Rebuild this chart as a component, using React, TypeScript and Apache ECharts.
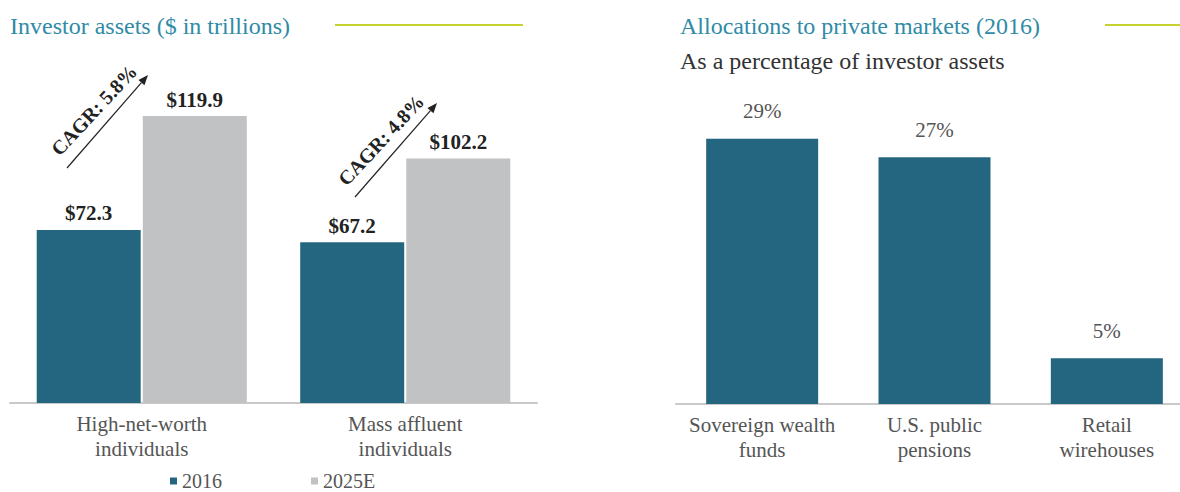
import React, { useEffect, useRef } from "react";
import * as echarts from "echarts";

const assetCategories = ["High-net-worth\nindividuals", "Mass affluent\nindividuals"];
const assets2016 = [72.3, 67.2];
const assets2025E = [119.9, 102.2];
const cagrLabels = ["CAGR: 5.8%", "CAGR: 4.8%"];
const allocCategories = ["Sovereign wealth\nfunds", "U.S. public\npensions", "Retail\nwirehouses"];
const allocValues = [29, 27, 5];
const legendNames = ["2016", "2025E"];

const FONT = "'Liberation Serif', 'Times New Roman', serif";
const TEAL = "#24667f";
const GREY_BAR = "#c1c2c4";
const TITLE = "#2f8ba6";
const ACCENT = "#c8d22e";
const LABEL = "#555555";

function arrow(x1: number, y1: number, x2: number, y2: number) {
  const dx = x2 - x1;
  const dy = y2 - y1;
  const len = Math.sqrt(dx * dx + dy * dy);
  const ux = dx / len;
  const uy = dy / len;
  const hl = 10;
  const hw = 4;
  const bx = x2 - ux * hl;
  const by = y2 - uy * hl;
  const px = -uy;
  const py = ux;
  return [
    {
      type: "line",
      shape: { x1, y1, x2: bx, y2: by },
      style: { stroke: "#222", lineWidth: 1.2 },
      silent: true,
    },
    {
      type: "polygon",
      shape: {
        points: [
          [x2, y2],
          [bx + px * hw, by + py * hw],
          [bx - px * hw, by - py * hw],
        ],
      },
      style: { fill: "#222" },
      silent: true,
    },
  ];
}

export default function App() {
  const ref = useRef<HTMLDivElement>(null);
  useEffect(() => {
    if (!ref.current) return;
    const chart = echarts.init(ref.current, undefined, { renderer: "svg" });
    const rot = (47 * Math.PI) / 180;
    const option: any = {
      animation: false,
      textStyle: { fontFamily: FONT },
      legend: {
        data: legendNames,
        left: 170,
        top: 471,
        padding: 0,
        itemWidth: 7,
        itemHeight: 7,
        itemGap: 89,
        icon: "rect",
        textStyle: { fontFamily: FONT, fontSize: 20, color: LABEL },
      },
      grid: [
        { left: 10, top: 68, width: 527, height: 335 },
        { left: 676, top: 84, width: 517, height: 320 },
      ],
      xAxis: [
        {
          type: "category",
          gridIndex: 0,
          data: assetCategories,
          axisLine: { lineStyle: { color: "#c9c9c9", width: 2 } },
          axisTick: { show: false },
          axisLabel: { interval: 0, color: LABEL, fontSize: 21, lineHeight: 25, margin: 8, fontFamily: FONT },
        },
        {
          type: "category",
          gridIndex: 1,
          data: allocCategories,
          axisLine: { lineStyle: { color: "#c9c9c9", width: 2 } },
          axisTick: { show: false },
          axisLabel: { interval: 0, color: LABEL, fontSize: 21, lineHeight: 25, margin: 8, fontFamily: FONT },
        },
      ],
      yAxis: [
        { type: "value", gridIndex: 0, min: 0, max: 140, show: false },
        { type: "value", gridIndex: 1, min: 0, max: 35, show: false },
      ],
      series: [
        {
          name: legendNames[0],
          type: "bar",
          xAxisIndex: 0,
          yAxisIndex: 0,
          data: assets2016,
          barWidth: 104,
          barGap: "2%",
          itemStyle: { color: TEAL },
          label: {
            show: true,
            position: "top",
            distance: 6,
            formatter: (p: any) => "$" + p.value.toFixed(1),
            fontFamily: FONT,
            fontSize: 21,
            fontWeight: "bold",
            color: "#222",
          },
        },
        {
          name: legendNames[1],
          type: "bar",
          xAxisIndex: 0,
          yAxisIndex: 0,
          data: assets2025E,
          barWidth: 104,
          barGap: "2%",
          itemStyle: { color: GREY_BAR },
          label: {
            show: true,
            position: "top",
            distance: 6,
            formatter: (p: any) => "$" + p.value.toFixed(1),
            fontFamily: FONT,
            fontSize: 21,
            fontWeight: "bold",
            color: "#222",
          },
        },
        {
          name: "Allocation",
          type: "bar",
          xAxisIndex: 1,
          yAxisIndex: 1,
          data: allocValues,
          barWidth: 112,
          itemStyle: { color: TEAL },
          label: {
            show: true,
            position: "top",
            distance: 17,
            formatter: "{c}%",
            fontFamily: FONT,
            fontSize: 21,
            color: LABEL,
          },
        },
      ],
      graphic: [
        {
          type: "text",
          x: 10,
          y: 26,
          style: { text: "Investor assets ($ in trillions)", fill: TITLE, fontSize: 24, fontFamily: FONT, verticalAlign: "middle" },
        },
        { type: "line", shape: { x1: 335, y1: 25, x2: 523, y2: 25 }, style: { stroke: ACCENT, lineWidth: 2 } },
        {
          type: "text",
          x: 680,
          y: 26,
          style: { text: "Allocations to private markets (2016)", fill: TITLE, fontSize: 24, fontFamily: FONT, verticalAlign: "middle" },
        },
        { type: "line", shape: { x1: 1105, y1: 25, x2: 1200, y2: 25 }, style: { stroke: ACCENT, lineWidth: 2 } },
        {
          type: "text",
          x: 680,
          y: 61,
          style: { text: "As a percentage of investor assets", fill: "#333", fontSize: 24, fontFamily: FONT, verticalAlign: "middle" },
        },
        ...arrow(67, 168, 148, 75),
        ...arrow(355, 197, 437, 103),
        {
          type: "text",
          x: 94,
          y: 110,
          rotation: rot,
          style: { text: cagrLabels[0], fill: "#222", fontSize: 20, fontWeight: "bold", fontFamily: FONT, align: "center", verticalAlign: "middle" },
        },
        {
          type: "text",
          x: 381,
          y: 140,
          rotation: rot,
          style: { text: cagrLabels[1], fill: "#222", fontSize: 20, fontWeight: "bold", fontFamily: FONT, align: "center", verticalAlign: "middle" },
        },
      ],
    };
    chart.setOption(option);
    return () => chart.dispose();
  }, []);
  return (
    <div style={{ position: "absolute", left: 0, top: 0, width: 1180, height: 492, overflow: "hidden", background: "#fff" }}>
      <div ref={ref} style={{ width: 1200, height: 492 }} />
    </div>
  );
}
